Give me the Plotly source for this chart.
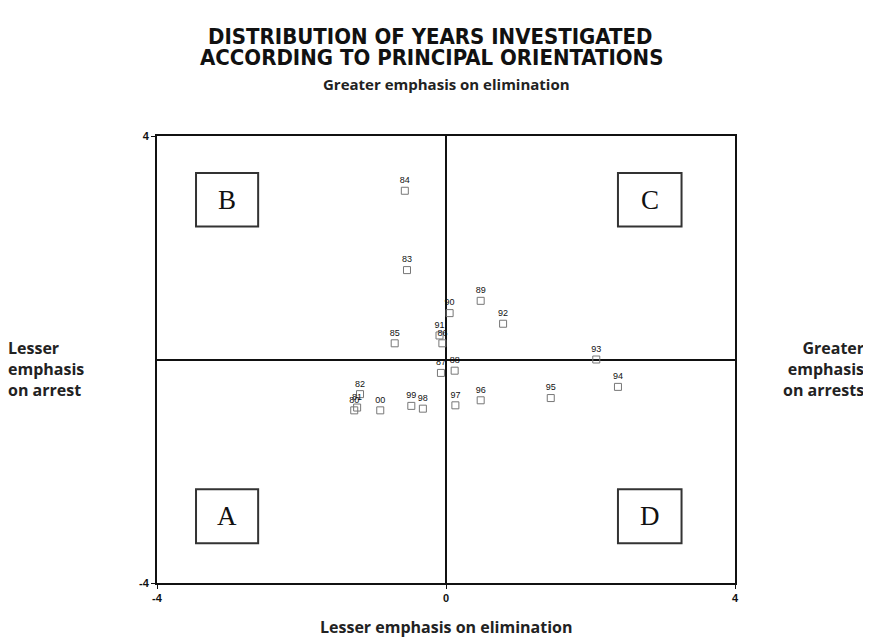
import plotly.graph_objects as go

# Data: years and their coordinates
years = ["84", "83", "89", "90", "92", "91", "86", "85", "87", "88",
         "82", "81", "80", "00", "99", "98", "97", "96", "95", "94", "93"]
x_arrest = [-0.57, -0.54, 0.48, 0.05, 0.79, -0.09, -0.05, -0.71, -0.07, 0.12,
            -1.19, -1.23, -1.27, -0.91, -0.48, -0.32, 0.13, 0.48, 1.45, 2.38, 2.08]
y_elim = [3.02, 1.60, 1.05, 0.83, 0.64, 0.43, 0.29, 0.29, -0.24, -0.20,
          -0.62, -0.86, -0.91, -0.91, -0.83, -0.88, -0.82, -0.73, -0.69, -0.49, 0.00]

x_ticks = [-4, 0, 4]
y_ticks = [-4, 4]

quadrants = ["B", "C", "A", "D"]
quad_x = [(-3.46, -2.60), (2.38, 3.26), (-3.46, -2.60), (2.38, 3.26)]
quad_y = [(2.38, 3.34), (2.38, 3.34), (-3.29, -2.32), (-3.29, -2.32)]

fig = go.Figure()
fig.add_trace(go.Scatter(
    x=x_arrest, y=y_elim, mode="markers+text", text=years,
    textposition="top center",
    textfont=dict(family="Arial, Liberation Sans", size=9, color="#111"),
    marker=dict(symbol="square-open", size=7, color="#777", line=dict(width=1)),
    showlegend=False, hoverinfo="skip", cliponaxis=False))

shapes = []
annotations = []
for q, (x0, x1), (y0, y1) in zip(quadrants, quad_x, quad_y):
    shapes.append(dict(type="rect", xref="x", yref="y", x0=x0, x1=x1, y0=y0, y1=y1,
                       line=dict(color="#333", width=2), fillcolor="rgba(0,0,0,0)"))
    annotations.append(dict(x=(x0 + x1) / 2, y=(y0 + y1) / 2, xref="x", yref="y",
                            text=q, showarrow=False, yanchor="middle", xanchor="center",
                            font=dict(family="Liberation Serif, Times New Roman", size=27, color="#111")))

bold = "Open Sans, Noto Sans, Arial"
lab_font = dict(family=bold, size=16, color="#222")
title_font = dict(family="Liberation Sans Narrow, DejaVu Sans Condensed, Arial Narrow", size=22, color="#111")
annotations += [
    dict(x=0.472, y=1.2237, xref="paper", yref="paper", showarrow=False,
         xanchor="center", yanchor="middle",
         text="<b>DISTRIBUTION OF YEARS INVESTIGATED</b>", font=title_font),
    dict(x=0.475, y=1.1745, xref="paper", yref="paper", showarrow=False,
         xanchor="center", yanchor="middle",
         text="<b>ACCORDING TO PRINCIPAL ORIENTATIONS</b>", font=title_font),
    dict(x=0.5, y=1.116, xref="paper", yref="paper", showarrow=False,
         xanchor="center", yanchor="middle",
         text="<b>Greater emphasis on elimination</b>", font=dict(family=bold, size=15, color="#222")),
    dict(x=0.5, y=-0.098, xref="paper", yref="paper", showarrow=False,
         xanchor="center", yanchor="middle",
         text="<b>Lesser emphasis on elimination</b>", font=lab_font),
    dict(x=-0.262, y=0.479, xref="paper", yref="paper", showarrow=False,
         xanchor="left", yanchor="middle", align="left",
         text="<b>Lesser<br>emphasis<br>on arrest</b>", font=lab_font),
    dict(x=1.2266, y=0.479, xref="paper", yref="paper", showarrow=False,
         xanchor="right", yanchor="middle", align="right",
         text="<b>Greater<br>emphasis<br>on arrests</b>", font=lab_font),
]

axis_common = dict(range=[-4, 4], showgrid=False, zeroline=True, zerolinecolor="#111",
                   zerolinewidth=2, showline=True, mirror=True, linecolor="#111", linewidth=2,
                   ticks="outside", ticklen=4, tickcolor="#111",
                   tickfont=dict(family="Arial, Liberation Sans", size=11, color="#111"),
                   fixedrange=True)

fig.update_layout(
    width=863, height=630,
    margin=dict(l=149, r=136, t=128, b=55),
    plot_bgcolor="white", paper_bgcolor="white",
    xaxis=dict(**axis_common, tickvals=x_ticks, ticktext=["<b>-4</b>", "<b>0</b>", "<b>4</b>"]),
    yaxis=dict(**axis_common, tickvals=y_ticks, ticktext=["<b>-4</b>", "<b>4</b>"]),
    shapes=shapes, annotations=annotations,
)
fig.write_html("out.html")
